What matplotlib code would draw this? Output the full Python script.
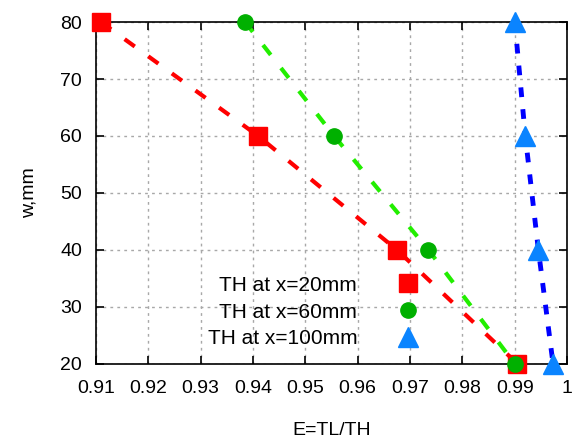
import matplotlib.pyplot as plt

plt.rcParams['font.family'] = ['Liberation Sans', 'DejaVu Sans']

w_mm = [80, 60, 40, 20]
e_x20 = [0.911, 0.941, 0.9675, 0.9905]
e_x60 = [0.9385, 0.9555, 0.9735, 0.990]
e_x100 = [0.990, 0.992, 0.9945, 0.9973]
labels = ['TH at x=20mm', 'TH at x=60mm', 'TH at x=100mm']

fig = plt.figure(figsize=(5.77, 4.41), dpi=100)
ax = fig.add_axes([0.166, 0.175, 0.817, 0.775])

# dashed lines
ax.plot(e_x20, w_mm, color='#ff0000', lw=3, dashes=(3, 4), zorder=2)
ax.plot(e_x60, w_mm, color='#22ee00', lw=3, dashes=(3, 4), zorder=2)
ax.plot(e_x100, w_mm, color='#0000ff', lw=3.5, dashes=(2, 2.5), zorder=2)

# markers
ax.plot(e_x20, w_mm, 's', color='#ff0000', ms=13, ls='none', label=labels[0], zorder=3, clip_on=False)
ax.plot(e_x60, w_mm, 'o', color='#00b000', ms=11, ls='none', label=labels[1], zorder=3, clip_on=False)
ax.plot(e_x100, w_mm, '^', color='#0a84ff', ms=15, ls='none', label=labels[2], zorder=3, clip_on=False)

ax.set_xlim(0.91, 1.0)
ax.set_ylim(20, 80)
ax.set_xticks([0.91, 0.92, 0.93, 0.94, 0.95, 0.96, 0.97, 0.98, 0.99, 1.0])
ax.set_xticklabels(['0.91', '0.92', '0.93', '0.94', '0.95', '0.96', '0.97', '0.98', '0.99', '1'])
ax.set_yticks([20, 30, 40, 50, 60, 70, 80])
ax.tick_params(direction='in', top=True, right=True, length=6, width=1.2, labelsize=14)
ax.tick_params(axis='x', pad=12)
ax.tick_params(axis='y', pad=10)
for s in ax.spines.values():
    s.set_linewidth(1.2)
ax.grid(True, color='#a8a8a8', linestyle=(0, (2, 3)), linewidth=1)
ax.set_axisbelow(True)

ax.set_xlabel('E=TL/TH', fontsize=14, labelpad=18)
ax.set_ylabel('w,mm', fontsize=14, labelpad=16)

ax.legend(loc='lower right', bbox_to_anchor=(0.707, 0.045), frameon=False, markerfirst=False,
          fontsize=15, handlelength=2, handletextpad=1.45, labelspacing=0.38,
          borderaxespad=0, borderpad=0)

fig.savefig('out.png', dpi=100)
